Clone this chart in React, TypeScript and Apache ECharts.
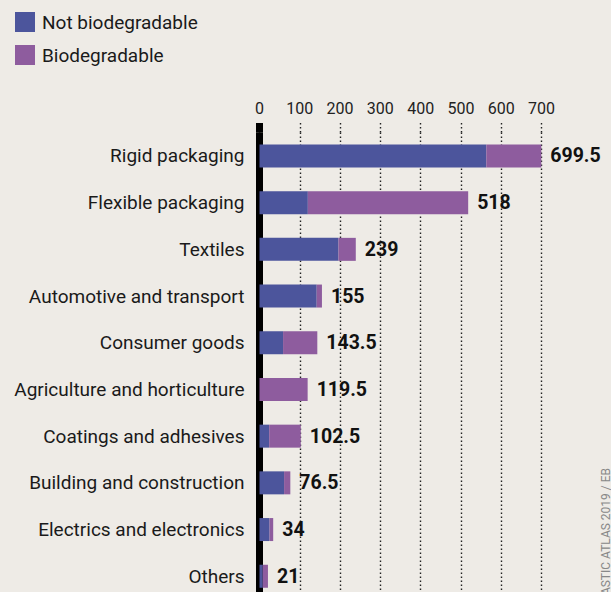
import React, { useEffect, useRef } from "react";
import * as echarts from "echarts";

const categories = [
  "Rigid packaging",
  "Flexible packaging",
  "Textiles",
  "Automotive and transport",
  "Consumer goods",
  "Agriculture and horticulture",
  "Coatings and adhesives",
  "Building and construction",
  "Electrics and electronics",
  "Others",
];
const notBiodegradable = [563, 120, 196, 142, 58.5, 0, 24, 61, 25, 8];
const biodegradable = [136.5, 398, 43, 13, 85, 119.5, 78.5, 15.5, 9, 13];
const totals = ["699.5", "518", "239", "155", "143.5", "119.5", "102.5", "76.5", "34", "21"];
const xTicks = [0, 100, 200, 300, 400, 500, 600, 700];
const seriesNames = ["Not biodegradable", "Biodegradable"];
const credit = "PLASTIC ATLAS 2019 / EB";

const BLUE = "#4c559c";
const PURPLE = "#8e5c9e";
const BG = "#eeebe6";
const FONT = "Roboto";

export default function App() {
  const ref = useRef<HTMLDivElement>(null);
  useEffect(() => {
    if (!ref.current) return;
    const chart = echarts.init(ref.current, undefined, { renderer: "svg" });
    const left = 259.5;
    const width = 282;
    const splitLine = {
      show: true,
      lineStyle: { color: "#222", width: 1.4, type: [1.4, 2.6] as any },
    };
    chart.setOption({
      animation: false,
      backgroundColor: BG,
      textStyle: { fontFamily: FONT },
      legend: {
        orient: "vertical",
        left: 15,
        top: 12,
        padding: 0,
        itemWidth: 20,
        itemHeight: 20,
        itemGap: 13,
        icon: "rect",
        data: seriesNames,
        textStyle: { fontSize: 19, color: "#1a1a1a", fontFamily: FONT, padding: [0, 0, 0, 2] },
        selectedMode: false,
      },
      grid: [
        { left, width, top: 123, height: 9.6, containLabel: false, outerBoundsMode: "none" },
        { left, width, top: 132.6, height: 467, containLabel: false, outerBoundsMode: "none" },
      ],
      xAxis: [
        {
          gridIndex: 0,
          type: "value",
          position: "top",
          min: xTicks[0],
          max: xTicks[xTicks.length - 1],
          interval: 100,
          axisLine: { show: false },
          axisTick: { show: false },
          axisLabel: { fontSize: 16, color: "#222", margin: 7, fontFamily: FONT },
          splitLine,
        },
        {
          gridIndex: 1,
          type: "value",
          position: "top",
          min: xTicks[0],
          max: xTicks[xTicks.length - 1],
          interval: 100,
          axisLine: { show: false },
          axisTick: { show: false },
          axisLabel: { show: false },
          splitLine,
        },
      ],
      yAxis: [
        {
          gridIndex: 0,
          type: "category",
          data: [""],
          axisLine: { show: true, lineStyle: { color: "#000", width: 7, cap: "butt" } },
          axisTick: { show: false },
          axisLabel: { show: false },
        },
        {
          gridIndex: 1,
          type: "category",
          inverse: true,
          data: categories,
          axisLine: { show: true, lineStyle: { color: "#000", width: 7, cap: "butt" } },
          axisTick: { show: false },
          axisLabel: { fontSize: 19, color: "#1a1a1a", margin: 15, fontFamily: FONT },
        },
      ],
      series: [
        {
          name: seriesNames[0],
          type: "bar",
          stack: "total",
          xAxisIndex: 1,
          yAxisIndex: 1,
          barWidth: 23,
          data: notBiodegradable,
          itemStyle: { color: BLUE },
        },
        {
          name: seriesNames[1],
          type: "bar",
          stack: "total",
          xAxisIndex: 1,
          yAxisIndex: 1,
          barWidth: 23,
          data: biodegradable,
          itemStyle: { color: PURPLE },
          label: {
            show: true,
            position: "right",
            distance: 9,
            formatter: (p: any) => totals[p.dataIndex],
            fontSize: 19.5,
            fontWeight: "bold",
            color: "#111",
            fontFamily: FONT,
          },
        },
      ],
      graphic: [
        {
          type: "text",
          x: 606,
          y: 468,
          rotation: Math.PI / 2,
          style: {
            text: credit,
            fontSize: 12,
            fill: "#888",
            fontFamily: FONT,
            textAlign: "right",
            textVerticalAlign: "middle",
          },
        },
      ],
    });
    return () => chart.dispose();
  }, []);
  return (
    <div style={{ position: "absolute", left: 0, top: 0, width: 611, height: 592, overflow: "hidden", background: BG }}>
      <div ref={ref} style={{ width: 611, height: 600 }} />
    </div>
  );
}
